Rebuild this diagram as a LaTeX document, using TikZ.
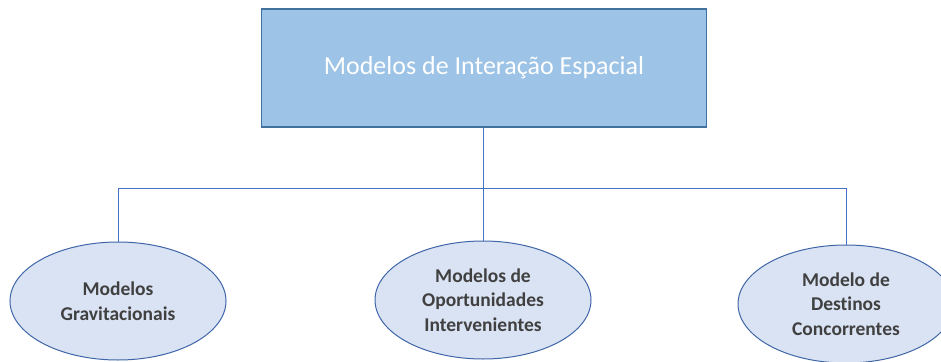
\documentclass[tikz,border=0pt]{standalone}
\usepackage{fontspec}
\setmainfont{Carlito}[Ligatures=NoCommon]
\usetikzlibrary{shapes.geometric}
\definecolor{rectfill}{HTML}{9DC3E6}
\definecolor{rectline}{HTML}{41719C}
\definecolor{ellfill}{HTML}{DAE3F3}
\definecolor{ellline}{HTML}{3F66A8}
\definecolor{conn}{HTML}{4472C4}
\definecolor{txt}{HTML}{404040}
\tikzset{
  topbox/.style={draw=rectline, line width=1.3pt, fill=rectfill, minimum width=445pt, minimum height=118pt, inner sep=0pt, text=white, font=\fontsize{26}{30}\selectfont},
  leaf/.style={ellipse, draw=ellline, line width=1pt, fill=ellfill, minimum width=216pt, minimum height=118pt, inner sep=0pt, text=txt, align=center, font=\fontsize{19.5}{24.5}\selectfont\bfseries},
  link/.style={draw=conn, line width=1pt}
}
\begin{document}
\begin{tikzpicture}[x=1pt,y=-1pt]
\useasboundingbox (0,0) rectangle (941,361);
\begin{scope}
\clip (0,0) rectangle (941,361);
\node[topbox] (top) at (484,68) {Modelos de Interação Espacial};
\node[leaf] (g) at (118,301) {Modelos\\Gravitacionais};
\node[leaf] (o) at (483,300) {Modelos de\\Oportunidades\\Intervenientes};
\node[leaf] (d) at (846,304) {Modelo de\\Destinos\\Concorrentes};
\coordinate (mid) at (483,188);
\draw[link] (top.south -| mid) -- (mid);
\draw[link] (mid) -- (o.north);
\draw[link] (mid) -| (g.north);
\draw[link] (mid) -| (d.north);
\end{scope}
\end{tikzpicture}
\end{document}
